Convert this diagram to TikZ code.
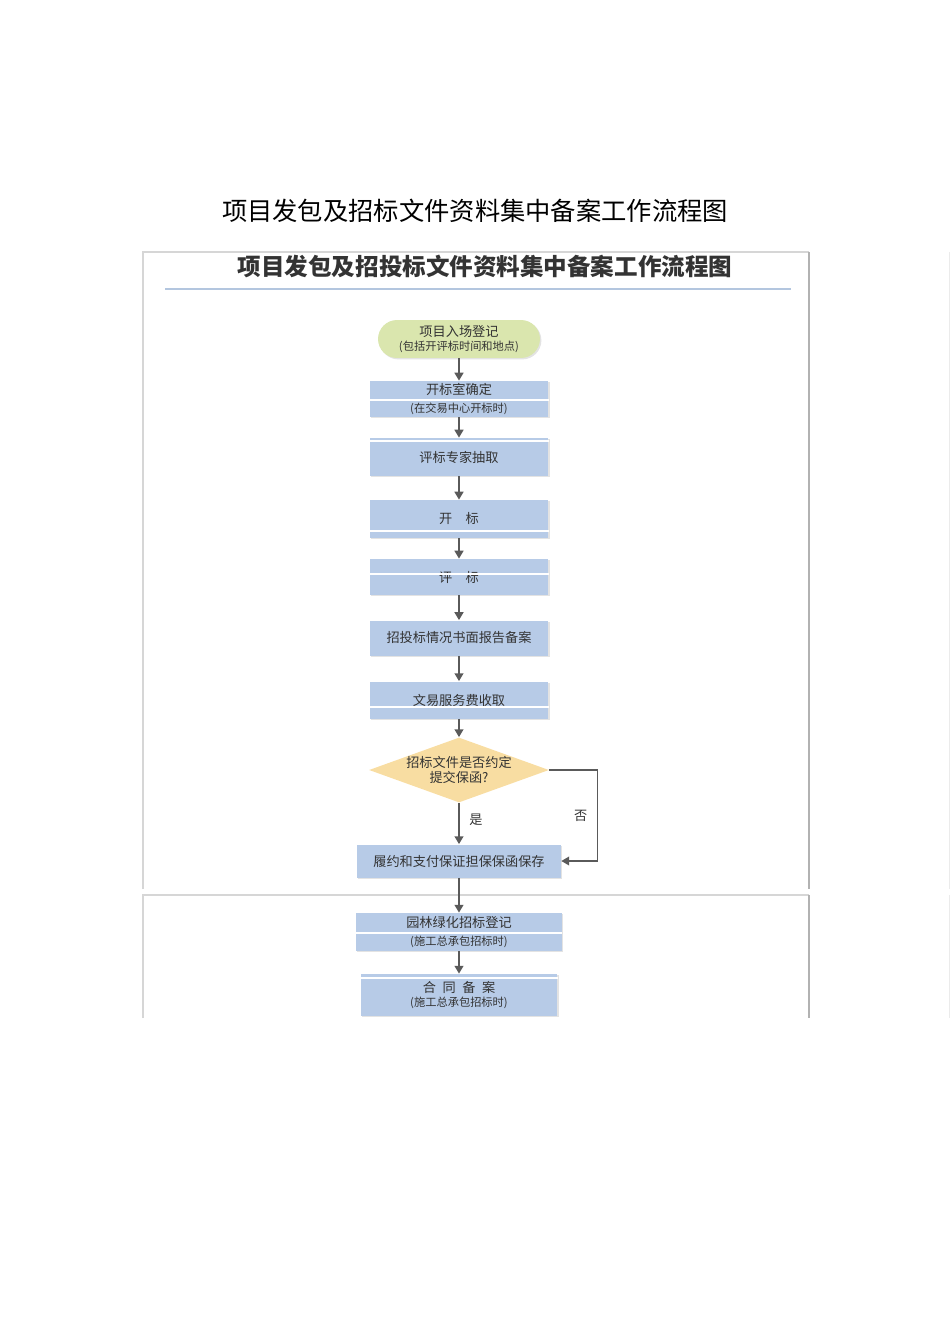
\documentclass[tikz,border=0pt]{standalone}
\usepackage{fontspec}
\newfontfamily\cjk{Noto Sans CJK SC}
\usetikzlibrary{positioning,arrows.meta,shapes.geometric,shadows}

\definecolor{boxblue}{HTML}{B7CBE7}
\definecolor{startgreen}{HTML}{DAE6AE}
\definecolor{askyellow}{HTML}{F8DDA2}
\definecolor{inkgray}{HTML}{333333}
\definecolor{arrowgray}{HTML}{5A5A5A}
\definecolor{framegray}{HTML}{D6D6D6}
\definecolor{ruleblue}{HTML}{B3C6DF}

\newcommand\subline[1]{{\fontsize{6.4}{7.6}\selectfont #1}}

\begin{document}
\begin{tikzpicture}[
  x=0.02cm, y=-0.02cm,
  stepbox/.style={fill=boxblue, minimum width=3.58cm, minimum height=0.72cm, inner sep=1pt,
    align=center, text=inkgray, font=\cjk\fontsize{7.5}{9}\selectfont,
    drop shadow={shadow xshift=0.8pt, shadow yshift=-0.8pt, fill=black!22}},
  tag/.style={text=inkgray, font=\cjk\fontsize{7.5}{8}\selectfont},
  arr/.style={-{Triangle[length=4.5pt,width=5pt]}, draw=arrowgray, line width=1.1pt},
  split/.style={draw=white, line width=1.4pt},
  frame/.style={draw=framegray, line width=0.6pt}
]
  \useasboundingbox (0,0) rectangle (950,1344);

  % page title
  \node[font=\cjk\fontsize{14.4}{16}\selectfont, text=black] (title) at (475,211) {项目发包及招标文件资料集中备案工作流程图};

  % panel outline, cut in two
  \draw[frame] (143,889) -- (143,252) -- (809,252);
  \draw[draw=black!30, line width=0.8pt] (809,252) -- (809,889);
  \draw[frame] (143,1018) -- (143,895) -- (809,895);
  \draw[draw=black!30, line width=0.8pt] (809,895) -- (809,1018);
  \draw[draw=black!8] (949,252) -- (949,889) (949,895) -- (949,1018);

  % panel heading
  \node[font=\cjk\bfseries\fontsize{13.4}{15}\selectfont, text=inkgray] (head) at (485,266) {项目发包及招投标文件资料集中备案工作流程图};
  \draw[draw=ruleblue, line width=1.3pt] (165,289) -- (791,289);

  % flow
  \node[stepbox, fill=startgreen, rounded corners=0.38cm, minimum width=3.24cm, minimum height=0.76cm] (entry) at (459,339)
    {项目入场登记\\[-1pt]\subline{(包括开评标时间和地点)}};
  \node[stepbox] (room) at (459,399) {开标室确定\\[1pt]\subline{(在交易中心开标时)}};
  \node[stepbox, minimum height=0.76cm] (expert) at (459,457) {评标专家抽取};
  \node[stepbox, minimum height=0.76cm] (open) at (459,519) {开\quad 标};
  \node[stepbox] (judge) at (459,577) {评\quad 标};
  \node[stepbox, minimum height=0.70cm] (report) at (459,638) {招投标情况书面报告备案};
  \node[stepbox, minimum height=0.74cm] (fee) at (459,700) {文易服务费收取};
  \node[diamond, aspect=2.75, fill=askyellow, inner sep=0pt, minimum width=3.6cm, minimum height=1.3cm,
    align=center, text=inkgray, font=\cjk\fontsize{7.5}{8.2}\selectfont] (ask) at (459,770)
    {招标文件是否约定\\提交保函?};
  \node[stepbox, minimum width=4.08cm, minimum height=0.66cm] (keep) at (459,861) {履约和支付保证担保保函保存};
  \node[stepbox, minimum width=4.12cm, minimum height=0.76cm] (green) at (459,932)
    {园林绿化招标登记\\[1pt]\subline{(施工总承包招标时)}};
  \node[stepbox, minimum width=3.94cm, minimum height=0.84cm] (contract) at (459,995)
    {合\enspace 同\enspace 备\enspace 案\\[-1pt]\subline{(施工总承包招标时)}};

  % white tears across the boxes
  \draw[split] (room.west |- 0,400) -- (room.east |- 0,400);
  \draw[split] (expert.west |- 0,441) -- (expert.east |- 0,441);
  \draw[split] (open.west |- 0,531) -- (open.east |- 0,531);
  \draw[split] (judge.west |- 0,574) -- (judge.east |- 0,574);
  \draw[split] (fee.west |- 0,707) -- (fee.east |- 0,707);
  \draw[split] (green.west |- 0,933) -- (green.east |- 0,933);
  \draw[split] (contract.west |- 0,978) -- (contract.east |- 0,978);

  \draw[arr] (entry) -- (room);
  \draw[arr] (room) -- (expert);
  \draw[arr] (expert) -- (open);
  \draw[arr] (open) -- (judge);
  \draw[arr] (judge) -- (report);
  \draw[arr] (report) -- (fee);
  \draw[arr] (fee) -- (ask);
  \draw[arr] (ask) -- node[pos=0.4, right=2pt, tag] (yes) {是} (keep);
  \draw[arr, line width=0.9pt] (ask.east) -- ++(48,0) |- node[pos=0.25, left=2pt, tag] (no) {否} (keep.east);
  \draw[arr] (keep) -- (green);
  \draw[arr] (green) -- (contract);
\end{tikzpicture}
\end{document}
